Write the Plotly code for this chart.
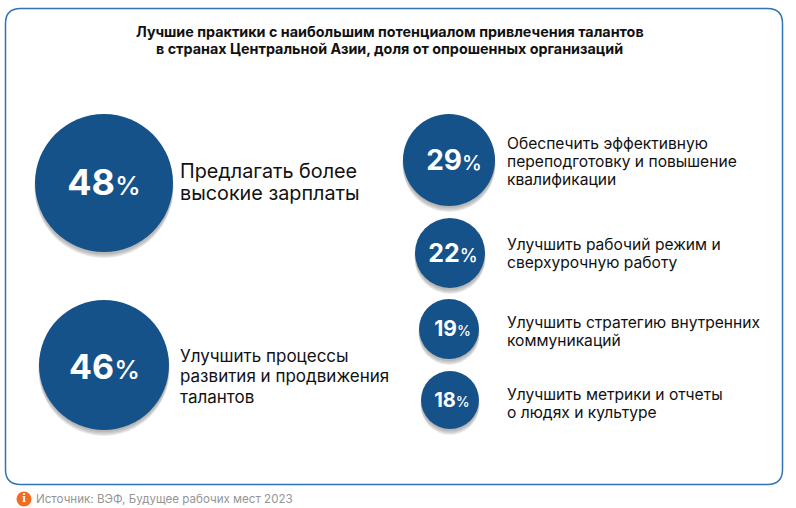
import plotly.graph_objects as go

FONT = "Inter"
BLUE = "#16528a"

title_lines = [
    "Лучшие практики с наибольшим потенциалом привлечения талантов",
    "в странах Центральной Азии, доля от опрошенных организаций",
]
source = "Источник: ВЭФ, Будущее рабочих мест 2023"

values = [48, 46, 29, 22, 19, 18]
labels = [
    ["Предлагать более", "высокие зарплаты"],
    ["Улучшить процессы", "развития и продвижения", "талантов"],
    ["Обеспечить эффективную", "переподготовку и повышение", "квалификации"],
    ["Улучшить рабочий режим и", "сверхурочную работу"],
    ["Улучшить стратегию внутренних", "коммуникаций"],
    ["Улучшить метрики и отчеты", "о людях и культуре"],
]

# layout of the bubbles, in page pixels
centre_x = [104, 104, 449, 450, 449, 450]
centre_y = [183, 365, 160, 253, 329, 400]
diameter = [138, 130, 92, 70, 60, 58]
label_x = [179, 179, 506, 506, 506, 506]
label_y = [182, 376, 161, 253.5, 331, 403]
label_size = [19.8, 17, 15.6, 15.6, 15.6, 15.6]
line_gap = [22, 20.5, 18, 18, 18, 18]
num_size = [36, 34, 28, 25, 21, 20]
pct_size = [26, 26, 20, 18, 14, 14]
# the mixed-size text sits high and a little left inside the circles
text_dx = [0, 0.5, 5, 3, 3.5, 2]
text_dy = [7, 9, 5, 4, 2, 2]

fig = go.Figure()

# soft drop shadow under the circles
for dy, grow, alpha in [(6, 0, 0.05), (5, 1, 0.05), (4, 1, 0.06), (3, 1, 0.07), (2, 0, 0.08)]:
    fig.add_trace(go.Scatter(
        x=centre_x,
        y=[y + dy for y in centre_y],
        mode="markers",
        marker=dict(size=[d + grow for d in diameter], color="black", opacity=alpha, line=dict(width=0)),
        hoverinfo="skip",
    ))

fig.add_trace(go.Scatter(
    x=centre_x,
    y=centre_y,
    mode="markers",
    marker=dict(size=diameter, color=BLUE, opacity=1, line=dict(width=0)),
    hovertemplate="%{customdata}%<extra></extra>",
    customdata=values,
))

texts = [
    f'<b><span style="font-size:{n}px">{v}</span><span style="font-size:{p}px;font-weight:500">%</span></b>'
    for v, n, p in zip(values, num_size, pct_size)
]
fig.add_trace(go.Scatter(
    x=[x + d for x, d in zip(centre_x, text_dx)],
    y=[y + d for y, d in zip(centre_y, text_dy)],
    mode="text",
    text=texts,
    textposition="middle center",
    textfont=dict(family=FONT, color="white", size=20),
    hoverinfo="skip",
))

for x, y, lines, size, gap in zip(label_x, label_y, labels, label_size, line_gap):
    top = y - gap * (len(lines) - 1) / 2
    for i, line in enumerate(lines):
        fig.add_annotation(
            x=x, y=top + i * gap, text=line, showarrow=False,
            xanchor="left", yanchor="middle", align="left", xshift=-1,
            font=dict(family=FONT, size=size, color="#111111"),
        )

for y, line in zip([31, 48], title_lines):
    fig.add_annotation(
        x=389.5, y=y, text=f"<b>{line}</b>", showarrow=False,
        xanchor="center", yanchor="middle",
        font=dict(family=FONT, size=14.35, color="#111111"),
    )

# source line with the info icon
fig.add_trace(go.Scatter(
    x=[24], y=[499], mode="markers+text",
    marker=dict(size=15, color="#f26b21", opacity=1, line=dict(width=0)),
    text=["<b>i</b>"], textposition="middle center",
    textfont=dict(family="Liberation Serif", size=13, color="white"),
    hoverinfo="skip",
))
fig.add_annotation(
    x=36, y=499, text=source, showarrow=False, xanchor="left", yanchor="middle", xshift=-2,
    font=dict(family=FONT, size=11.6, color="#959595"),
)

# rounded frame
L, R, T, B, r = 5.5, 782.5, 8.5, 484.5, 15
frame = (
    f"M {L + r} {T} L {R - r} {T} Q {R} {T} {R} {T + r} L {R} {B - r} "
    f"Q {R} {B} {R - r} {B} L {L + r} {B} Q {L} {B} {L} {B - r} L {L} {T + r} Q {L} {T} {L + r} {T} Z"
)
fig.add_shape(type="path", path=frame, line=dict(color="#2f75b5", width=1.5), layer="below")

fig.update_layout(
    width=796,
    height=508,
    margin=dict(l=0, r=0, t=0, b=0),
    paper_bgcolor="white",
    plot_bgcolor="white",
    showlegend=False,
    xaxis=dict(range=[0, 796], visible=False, fixedrange=True),
    yaxis=dict(range=[508, 0], visible=False, fixedrange=True),
)

# the page's default body margin would push the figure off by 8px
fig.write_html("out.html", config={"displayModeBar": False},
               post_script="document.body.style.margin = '0';")
